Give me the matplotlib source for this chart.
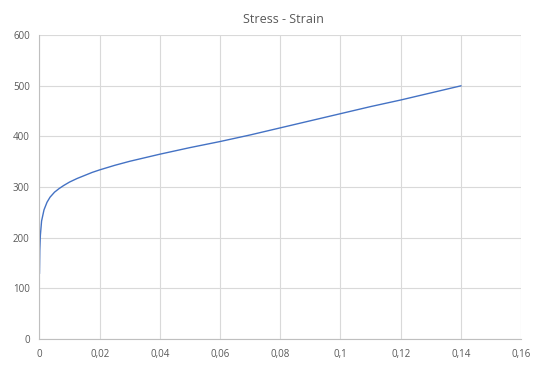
import matplotlib.pyplot as plt
from matplotlib.ticker import FuncFormatter

# Values
strain = [0, 0.0001, 0.0003, 0.0007, 0.0015, 0.0025, 0.0035, 0.005, 0.0065,
          0.008, 0.01, 0.0125, 0.015, 0.0175, 0.02, 0.025, 0.03, 0.035, 0.04,
          0.05, 0.06, 0.07, 0.08, 0.09, 0.10, 0.11, 0.12, 0.13, 0.14]
stress = [130, 175, 205, 233, 255, 270, 280, 290, 297,
          303, 310, 317, 323, 329, 334, 343, 351, 358, 365,
          378, 390, 403, 417, 431, 445, 459, 472, 486, 500]

x_ticks = [0, 0.02, 0.04, 0.06, 0.08, 0.1, 0.12, 0.14, 0.16]
y_ticks = [0, 100, 200, 300, 400, 500, 600]

text_col = '#595959'
grid_col = '#D9D9D9'

plt.rcParams['font.family'] = ['Open Sans', 'DejaVu Sans']

fig = plt.figure(figsize=(5.46, 3.66), dpi=100)
ax = fig.add_axes([0.0723, 0.0738, 0.882, 0.830])

ax.plot(strain, stress, color='#4472C4', linewidth=1.0)

ax.set_xlim(0, 0.16)
ax.set_ylim(0, 600)
ax.set_xticks(x_ticks)
ax.set_yticks(y_ticks)

def comma_fmt(v, pos):
    s = ('%.2f' % v).rstrip('0').rstrip('.')
    return s.replace('.', ',')

ax.xaxis.set_major_formatter(FuncFormatter(comma_fmt))
ax.tick_params(length=0, labelsize=7, colors=text_col, pad=7)
ax.grid(True, color=grid_col, linewidth=0.8)
ax.set_axisbelow(True)
for side in ['top', 'right']:
    ax.spines[side].set_visible(False)
for side in ['left', 'bottom']:
    ax.spines[side].set_color('#BFBFBF')
    ax.spines[side].set_linewidth(0.8)

fig.suptitle('Stress - Strain', x=0.52, y=0.965, fontsize=9, color=text_col)

fig.savefig('out.png', dpi=100)
